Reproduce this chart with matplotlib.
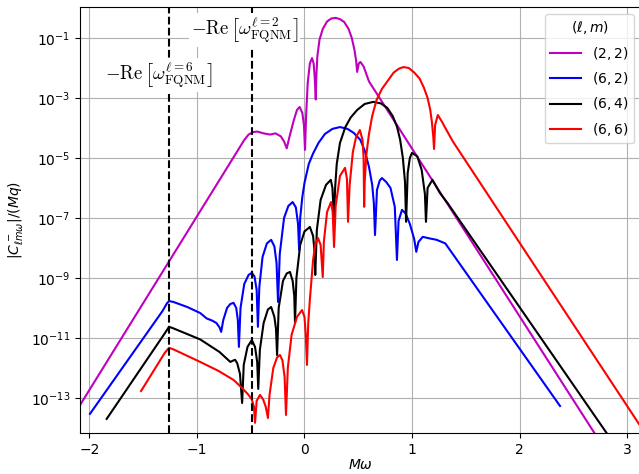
import numpy as np
import matplotlib
matplotlib.use("Agg")
from matplotlib import pyplot as plt
from matplotlib.ticker import FixedLocator, LogFormatterSciNotation, NullLocator

# ---------------------------------------
# |C^-_{l m w}| / (Mq) spectra, stored as (M*omega, log10 |C|)
# ---------------------------------------

x_22 = [-2.15, -0.56, -0.52, -0.48, -0.44, -0.38, -0.32, -0.27, -0.22, -0.19, -0.165,
        -0.14, -0.10, -0.07, -0.045, -0.02, -0.005, 0.005, 0.015, 0.03, 0.05, 0.07,
        0.085, 0.095, 0.105, 0.11, 0.12, 0.14, 0.17, 0.21, 0.25, 0.29, 0.33, 0.37,
        0.41, 0.44, 0.465, 0.48, 0.49, 0.505, 0.52, 0.55, 0.60, 2.72]
logc_22 = [-13.6, -4.4, -4.22, -4.14, -4.12, -4.18, -4.22, -4.18, -4.28, -4.45, -4.68,
           -4.3, -3.75, -3.4, -3.3, -3.5, -3.9, -4.73, -3.6, -2.5, -1.85, -1.67,
           -1.85, -2.3, -3.05, -2.3, -1.6, -1.05, -0.7, -0.45, -0.35, -0.33, -0.37, -0.47,
           -0.7, -1.0, -1.4, -1.75, -2.13, -1.85, -1.8, -1.95, -2.45, -14.3]

x_62 = [-1.995, -1.32, -1.28, -1.26, -1.22, -1.09, -0.97, -0.91, -0.86, -0.82, -0.79,
        -0.775, -0.755, -0.72, -0.69, -0.66, -0.635, -0.62, -0.61, -0.595, -0.56, -0.52,
        -0.49, -0.465, -0.445, -0.433, -0.42, -0.39, -0.35, -0.31, -0.28, -0.26, -0.246,
        -0.23, -0.19, -0.15, -0.11, -0.08, -0.06, -0.05, -0.04, -0.02, 0.0, 0.04, 0.08,
        0.13, 0.19, 0.26, 0.33, 0.40, 0.46, 0.52, 0.56, 0.60, 0.63, 0.645, 0.656, 0.674,
        0.70, 0.72, 0.76, 0.80, 0.84, 0.86, 0.875, 0.907, 0.94, 0.98, 1.02, 1.04, 1.06,
        1.10, 1.16, 1.23, 1.31, 2.377]
logc_62 = [-13.53, -10.1, -9.85, -9.77, -9.8, -9.97, -10.17, -10.35, -10.42, -10.5, -10.65,
           -10.8, -10.4, -10.0, -9.87, -9.83, -10.0, -10.4, -11.3, -10.0, -9.2, -8.9,
           -8.83, -8.95, -9.4, -10.63, -9.3, -8.3, -7.85, -7.73, -7.95, -8.5, -9.8,
           -8.2, -7.0, -6.6, -6.47, -6.65, -7.2, -8.07, -7.0, -6.3, -5.83, -5.2, -4.85,
           -4.5, -4.2, -4.03, -3.97, -4.03, -4.17, -4.4, -4.75, -5.3, -5.9, -6.5, -7.57, -6.07,
           -5.75, -5.67, -5.8, -6.0, -6.63, -8.4, -7.1, -6.73, -6.85, -7.2, -7.7, -8.13, -7.8,
           -7.63, -7.68, -7.73, -7.85, -13.27]

x_64 = [-1.84, -1.30, -1.26, -1.22, -0.97, -0.79, -0.69, -0.66, -0.645, -0.625, -0.60,
        -0.58, -0.565, -0.53, -0.49, -0.46, -0.44, -0.43, -0.415, -0.38, -0.34, -0.31,
        -0.28, -0.265, -0.255, -0.24, -0.20, -0.165, -0.135, -0.11, -0.095, -0.088, -0.075,
        -0.04, 0.0, 0.05, 0.08, 0.093, 0.10, 0.115, 0.15, 0.20, 0.245, 0.26, 0.275, 0.285,
        0.30, 0.33, 0.38, 0.43, 0.49, 0.56, 0.64, 0.71, 0.77, 0.82, 0.86, 0.89, 0.915,
        0.935, 0.945, 0.96, 0.98, 1.0, 1.05, 1.09, 1.12, 1.13, 1.145, 1.19, 1.26, 1.33, 2.81]
logc_64 = [-13.7, -10.85, -10.63, -10.68, -11.05, -11.47, -11.8, -11.75, -11.73, -11.85, -12.2,
           -13.17, -11.9, -11.3, -11.07, -11.3, -11.8, -12.7, -11.4, -10.5, -10.05, -9.97,
           -10.3, -10.7, -11.57, -10.0, -9.1, -8.85, -8.8, -9.1, -9.6, -10.5, -9.0,
           -7.9, -7.45, -7.3, -7.6, -8.1, -8.9, -7.4, -6.4, -5.9, -5.73, -6.0, -7.07, -6.0,
           -5.2, -4.5, -3.97, -3.65, -3.4, -3.2, -3.13, -3.18, -3.33, -3.6, -3.95, -4.4, -5.0,
           -5.8, -7.13, -5.5, -5.0, -4.83, -4.95, -5.4, -6.2, -7.13, -6.0, -5.73, -6.17, -6.5, -14.17]

x_66 = [-1.52, -1.30, -1.26, -1.22, -0.97, -0.80, -0.66, -0.58, -0.52, -0.49, -0.47,
        -0.46, -0.445, -0.414, -0.385, -0.36, -0.34, -0.325, -0.29, -0.255, -0.228, -0.205,
        -0.185, -0.172, -0.155, -0.12, -0.07, -0.023, 0.0, 0.012, 0.023, 0.035, 0.05,
        0.08, 0.10, 0.126, 0.15, 0.17, 0.18, 0.21, 0.247, 0.262, 0.275, 0.29, 0.33, 0.377,
        0.395, 0.405, 0.42, 0.45, 0.48, 0.515, 0.54, 0.55, 0.555, 0.56, 0.575, 0.60, 0.63,
        0.67, 0.72, 0.77, 0.83, 0.88, 0.92, 0.97, 1.02, 1.07, 1.11, 1.145, 1.17, 1.185,
        1.198, 1.205, 1.215, 1.24, 1.28, 1.31, 1.38, 3.15]
logc_66 = [-12.77, -11.5, -11.33, -11.38, -11.8, -12.1, -12.4, -12.67, -12.9, -13.05, -13.3,
           -13.83, -13.1, -12.9, -13.05, -13.3, -13.67, -12.9, -12.0, -11.65, -11.57, -11.75,
           -12.3, -13.57, -12.0, -10.9, -10.3, -10.07, -10.3, -10.9, -11.9, -10.5, -9.73,
           -8.4, -7.9, -7.67, -7.9, -8.97, -7.8, -6.8, -6.47, -6.8, -7.97, -6.6, -5.6, -5.33,
           -5.7, -7.13, -5.9, -4.8, -4.3, -4.07, -4.4, -5.0, -6.63, -5.8, -4.9, -4.2, -3.6,
           -3.07, -2.7, -2.45, -2.15, -2.02, -1.97, -2.0, -2.15, -2.35, -2.65, -3.0, -3.4, -3.8,
           -4.3, -4.7, -3.9, -3.57, -3.8, -4.0, -4.45, -14.08]

series = [
    ("$(2,2)$", x_22, logc_22, "m"),
    ("$(6,2)$", x_62, logc_62, "b"),
    ("$(6,4)$", x_64, logc_64, "k"),
    ("$(6,6)$", x_66, logc_66, "r"),
]

# -Re of the fundamental QNM frequencies
re_fqnm_l6 = -1.262
re_fqnm_l2 = -0.49

y_ticks = [1e-13, 1e-11, 1e-9, 1e-7, 1e-5, 1e-3, 1e-1]
x_ticks = [-2, -1, 0, 1, 2, 3]

# ---------------------------------------
# Plot
# ---------------------------------------

fig = plt.figure(figsize=(6.39, 4.74), dpi=100)
ax = fig.add_axes([80 / 639, 41 / 474, 561 / 639, 426 / 474])

for label, xs, logs, color in series:
    ax.plot(xs, 10.0 ** np.array(logs), color=color, lw=1.5, label=label)

ax.axvline(re_fqnm_l6, color="k", ls="--", lw=1.5)
ax.axvline(re_fqnm_l2, color="k", ls="--", lw=1.5)

box = dict(facecolor="white", edgecolor="none", pad=1.5)
ax.text(-0.56, 10 ** -0.73, r"$-\mathrm{Re}\,\left[\omega^{\ell=2}_{\rm FQNM}\right]$",
        math_fontfamily="cm", fontsize=13.5, ha="center", va="center", bbox=box, zorder=3)
ax.text(-1.355, 10 ** -2.23, r"$-\mathrm{Re}\,\left[\omega^{\ell=6}_{\rm FQNM}\right]$",
        math_fontfamily="cm", fontsize=13.5, ha="center", va="center", bbox=box, zorder=3)

ax.set_yscale("log")
ax.set_xlim(-2.088, 3.13)
ax.set_ylim(10 ** -14.17, 10 ** 0.033)
ax.yaxis.set_major_locator(FixedLocator(y_ticks))
ax.yaxis.set_major_formatter(LogFormatterSciNotation())
ax.yaxis.set_minor_locator(NullLocator())
ax.set_xticks(x_ticks)
ax.tick_params(labelsize=10)
ax.grid(True, color="#b0b0b0", lw=0.8)

ax.set_xlabel(r"$M\omega$", labelpad=1)
ax.set_ylabel(r"$|C^-_{\ell m\omega}|/(Mq)$")

ax.legend(title=r"$(\ell, m)$", loc="upper right", fontsize=10, title_fontsize=10,
          labelspacing=0.6, handlelength=2.2)

fig.savefig("out.png", dpi=100)
